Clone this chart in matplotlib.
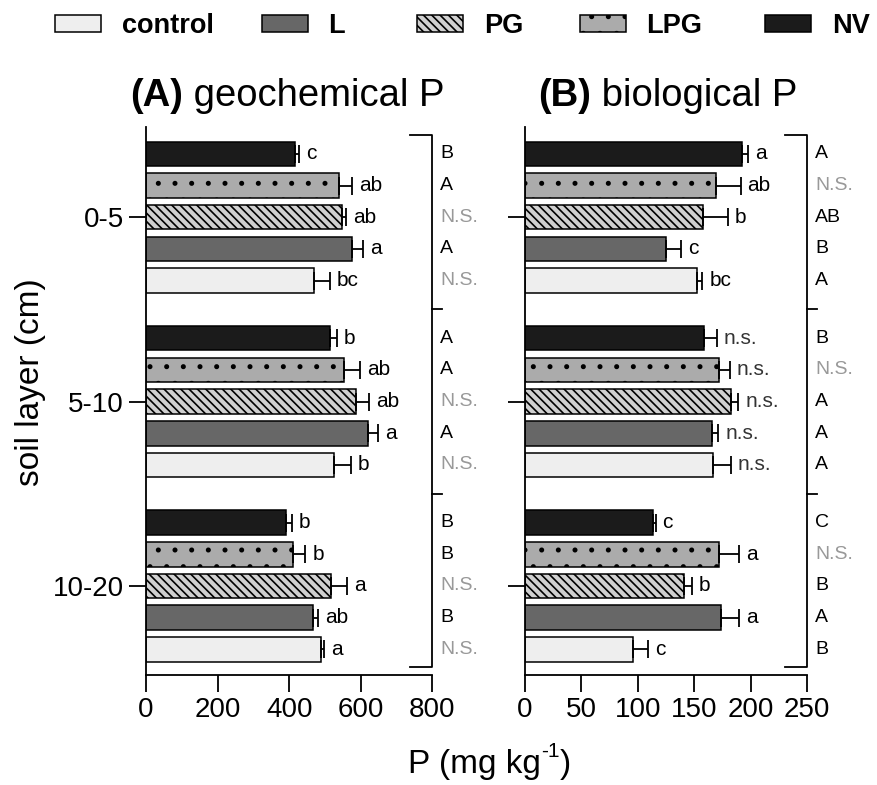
import matplotlib
matplotlib.use("Agg")
import matplotlib.pyplot as plt
import matplotlib.patches as mpatches
import matplotlib.transforms as mtransforms
import numpy as np

plt.rcParams['font.family'] = ['Liberation Sans', 'DejaVu Sans']
plt.rcParams['hatch.linewidth'] = 1.2

# data (order of treatments: control, L, PG, LPG, NV)
treatments = ['control', 'L', 'PG', 'LPG', 'NV']
layers = ['0-5', '5-10', '10-20']

geo_mean = [[470, 575, 547, 539, 416],
            [525, 620, 587, 553, 514],
            [489, 466, 517, 412, 390]]
geo_err = [[44, 32, 12, 36, 12],
           [47, 29, 37, 45, 19],
           [9, 14, 44, 33, 17]]
geo_letters = [['bc', 'a', 'ab', 'ab', 'c'],
               ['b', 'a', 'ab', 'ab', 'b'],
               ['a', 'ab', 'a', 'b', 'b']]
geo_layer_letters = [['N.S.', 'A', 'N.S.', 'A', 'B'],
                     ['N.S.', 'A', 'N.S.', 'A', 'A'],
                     ['N.S.', 'B', 'N.S.', 'B', 'B']]

bio_mean = [[152.6, 124.6, 157.4, 168.9, 192.5],
            [166.8, 165.3, 182.2, 172.1, 158.5],
            [95.4, 173.6, 140.8, 171.8, 113.7]]
bio_err = [[4.4, 13.6, 22, 22, 5.3],
           [15.6, 5.9, 6.8, 9.4, 11.2],
           [13.9, 16.2, 6.8, 18, 2]]
bio_letters = [['bc', 'c', 'b', 'ab', 'a'],
               ['n.s.', 'n.s.', 'n.s.', 'n.s.', 'n.s.'],
               ['c', 'a', 'b', 'a', 'c']]
bio_layer_letters = [['A', 'B', 'AB', 'N.S.', 'A'],
                     ['A', 'A', 'A', 'N.S.', 'B'],
                     ['B', 'A', 'B', 'N.S.', 'C']]

# styles
colors = ['#eeeeee', '#676767', '#d0d0d0', '#ababab', '#1b1b1b']
hatches = [None, None, '\\\\\\\\', '.', None]
offsets = [2, 1, 0, -1, -2]
group_step = 5.82
group_pos = np.arange(len(layers)) * group_step

fig = plt.figure(figsize=(8.77, 7.85), dpi=100)
ax1 = fig.add_axes([146 / 877, 1 - 675 / 785, 286.3 / 877, 548 / 785])
ax2 = fig.add_axes([525 / 877, 1 - 675 / 785, 282.3 / 877, 548 / 785])


def draw_panel(ax, means, errs, letters, layer_letters, xmax, xstep):
    trans = mtransforms.blended_transform_factory(ax.transAxes, ax.transData)
    for g in range(len(layers)):
        for i in range(len(treatments)):
            y = group_pos[g] + offsets[i]
            v = means[g][i]
            e = errs[g][i]
            ax.barh(y, v, height=0.77, color=colors[i], edgecolor='black',
                    linewidth=1.1, hatch=hatches[i], zorder=2)
            ax.errorbar(v, y, xerr=[[0], [e]], fmt='none', ecolor='black',
                        elinewidth=1.3, capsize=6.5, capthick=1.3, zorder=3)
            lbl = letters[g][i]
            ax.annotate(lbl, xy=(v + e, y), xytext=(5, 0),
                        textcoords='offset points', va='center', ha='left',
                        fontsize=15, color='#333333' if lbl == 'n.s.' else 'black')
            ll = layer_letters[g][i]
            ax.text(1.027, y, ll, transform=trans, va='center', ha='left',
                    fontsize=14, color='#999999' if ll == 'N.S.' else 'black')

    # grouping bracket on the right
    top = group_pos[0] - 2 - 0.6
    bot = group_pos[-1] + 2 + 0.56
    ax.plot([0.922, 1.0, 1.0, 0.922], [top, top, bot, bot], color='black',
            lw=1.3, transform=trans, clip_on=False)
    for g in range(len(layers) - 1):
        yb = (group_pos[g] + 2 + group_pos[g + 1] - 2) / 2
        ax.plot([1.0, 1.035], [yb, yb], color='black', lw=1.3,
                transform=trans, clip_on=False)

    ax.set_xlim(0, xmax)
    ax.set_xticks(np.arange(0, xmax + 1, xstep))
    ax.set_ylim(group_pos[-1] + 2.81, group_pos[0] - 2.85)
    ax.set_yticks(group_pos)
    for s in ['top', 'right']:
        ax.spines[s].set_visible(False)
    for s in ['left', 'bottom']:
        ax.spines[s].set_linewidth(1.3)
    ax.tick_params(axis='both', direction='out', length=12, width=1.3,
                   labelsize=20, pad=4)


draw_panel(ax1, geo_mean, geo_err, geo_letters, geo_layer_letters, 800, 200)
draw_panel(ax2, bio_mean, bio_err, bio_letters, bio_layer_letters, 250, 50)
ax1.set_yticklabels(layers)
ax2.set_yticklabels([])

ax1.set_ylabel('soil layer (cm)', fontsize=24)
ax1.yaxis.set_label_coords(-0.35, 0.535)

# x label with a hyphen superscript, built from pieces
xl = fig.text(408 / 877, 1 - 765 / 785, 'P (mg kg', fontsize=24,
              ha='left', va='center')
sup = ax1.annotate('-1', xy=(1, 0.62), xycoords=xl, va='bottom', ha='left',
                   fontsize=15, annotation_clip=False)
ax1.annotate(')', xy=(1, 0), xycoords=(sup, xl), va='bottom', ha='left',
             fontsize=24, annotation_clip=False)

# panel titles: bold letter + regular text
for x0, tag, name in [(130, '(A)', 'geochemical P'), (538, '(B)', 'biological P')]:
    t = fig.text(x0 / 877, 1 - 114 / 785, tag, fontsize=27.5, fontweight='bold',
                 ha='left', va='bottom')
    ax1.annotate(' ' + name, xy=(1, 0), xycoords=t, va='bottom', ha='left',
                 fontsize=27.5, annotation_clip=False)

# legend, one entry per column
leg_x = [55, 262, 417, 580, 765]
for i, name in enumerate(treatments):
    h = mpatches.Patch(facecolor=colors[i], edgecolor='black', linewidth=1.1,
                       hatch=hatches[i])
    fig.legend(handles=[h], labels=[name], loc='center left',
               bbox_to_anchor=(leg_x[i] / 877, 1 - 26 / 785), frameon=False,
               borderpad=0, borderaxespad=0, handlelength=1.7,
               handleheight=0.57, handletextpad=0.76,
               prop={'size': 19.5, 'weight': 'bold'})

fig.savefig('out.png', dpi=100)
